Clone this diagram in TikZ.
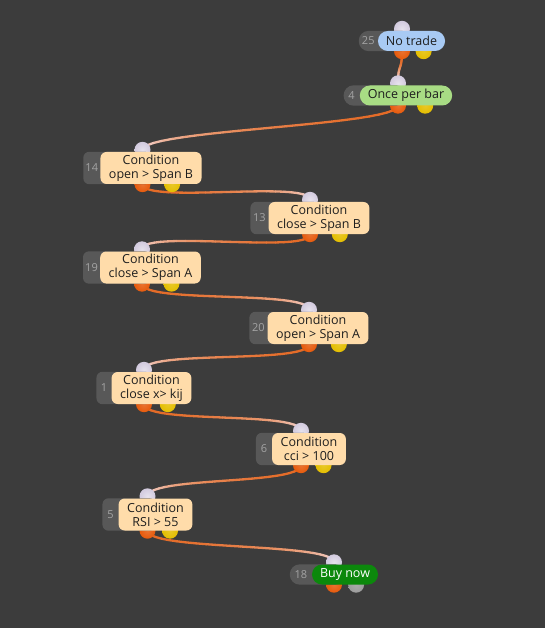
\documentclass[tikz,border=0pt]{standalone}
\usepackage{fontspec}
\setmainfont{Open Sans}
\usetikzlibrary{calc,backgrounds}
\definecolor{Canvas}{HTML}{3C3C3C}
\definecolor{TagGray}{HTML}{585858}
\definecolor{TagText}{HTML}{A4A4A4}
\definecolor{Ink}{HTML}{1E1E1E}
\definecolor{Beige}{HTML}{FFDCAA}
\definecolor{TradeBlue}{HTML}{A8CAF4}
\definecolor{OnceGreen}{HTML}{A8DC84}
\definecolor{BuyGreen}{HTML}{0C880C}
\definecolor{PortTop}{HTML}{D2CADE}
\definecolor{PortOut}{HTML}{E65A0C}
\definecolor{PortSide}{HTML}{E4BE00}
\definecolor{PortIdle}{HTML}{9C9C9C}
\definecolor{WireOrange}{HTML}{E46A26}
\definecolor{WirePale}{HTML}{F4E8F0}
\pgfdeclarelayer{canvas}
\pgfdeclarelayer{wires}
\pgfsetlayers{canvas,wires,background,main}
\newcommand\boxfont{\fontsize{12.5}{14}\selectfont}
\tikzset{
  condbox/.style={fill=Beige,rounded corners=6pt,inner xsep=8.5pt,inner ysep=1pt,minimum height=32pt,align=center,font=\boxfont,text=Ink},
  pillbox/.style={rounded corners=10pt,inner xsep=8pt,inner ysep=1pt,minimum height=20pt,font=\boxfont,text=Ink},
  tradebox/.style={pillbox,fill=TradeBlue},
  oncebox/.style={pillbox,fill=OnceGreen},
  buybox/.style={pillbox,fill=BuyGreen,text=white},
  tagtext/.style={font=\fontsize{11}{13}\selectfont,text=TagText,inner sep=0pt},
  port/.style={circle,inner sep=0pt,minimum size=16pt},
  inport/.style={port,inner color=PortTop!55!white,outer color=PortTop},
  outport/.style={port,inner color=PortOut!85!white,outer color=PortOut},
  sideport/.style={port,inner color=PortSide!85!white,outer color=PortSide},
  idleport/.style={port,inner color=PortIdle!85!white,outer color=PortIdle},
  wire/.style={line width=2.3pt,line cap=round}
}
% #1 name, #2 id, #3 box style, #4 centre, #5 label, #6 side port, #7 tag offset, #8 tag corner
\newcommand\block[8]{%
  \node[#3] (#1) at (#4) {#5};
  \coordinate (#1-l) at ($(#1.west)+(-#7,0)$);
  \coordinate (#1-m) at ($(#1-l)!0.5!(#1.east)$);
  \coordinate (#1-s) at ($(#1-l)!0.75!(#1.east)$);
  \begin{scope}[on background layer]
    \node[inport] (#1-i) at ($(#1-m |- #1.north)+(0,-2)$) {};
    \node[outport] (#1-o) at (#1-m |- #1.south) {};
    \node[#6] (#1-x) at (#1-s |- #1.south) {};
    \fill[TagGray,rounded corners=#8] (#1-l |- #1.north) rectangle (#1.south);
    \node[tagtext] at ($(#1-l)!0.5!(#1.west)$) {#2};
  \end{scope}
}
% from the output port of #1 to the input port of #2
\newcommand\wire[2]{%
  \begin{pgfonlayer}{wires}
    \path (#1-o.center) .. controls +(0,20) and +(0,-20) .. (#2-i.center)
      \foreach \k in {0,...,24}{coordinate[pos=\k/24] (w\k)};
    \foreach \k [evaluate=\k as \j using int(\k+1),evaluate=\k as \c using 100-100*(\k/24)^2.4] in {0,...,23}
      \draw[wire,draw=WireOrange!\c!WirePale] (w\k) -- (w\j);
  \end{pgfonlayer}
}

\begin{document}
\begin{tikzpicture}[x=1pt,y=-1pt]
  \begin{pgfonlayer}{canvas}
    \fill[Canvas] (0,0) rectangle (545,628);
  \end{pgfonlayer}
  \block{n25}{25}{tradebox}{411.5,41}{No trade}{sideport}{19}{10}
  \block{n4}{4}{oncebox}{406,95.5}{Once per bar}{sideport}{16}{10}
  \block{n14}{14}{condbox}{151,168}{Condition\\open > Span B}{sideport}{17}{6}
  \block{n13}{13}{condbox}{319,218}{Condition\\close > Span B}{sideport}{18}{6}
  \block{n19}{19}{condbox}{150.5,267.5}{Condition\\close > Span A}{sideport}{17}{6}
  \block{n20}{20}{condbox}{318,328}{Condition\\open > Span A}{sideport}{18}{6}
  \block{n1}{1}{condbox}{151.5,388}{Condition\\close x> kij}{sideport}{15}{6}
  \block{n6}{6}{condbox}{309,449}{Condition\\cci > 100}{sideport}{16}{6}
  \block{n5}{5}{condbox}{155.5,514.5}{Condition\\RSI > 55}{sideport}{16}{6}
  \block{n18}{18}{buybox}{345,574.5}{Buy now}{idleport}{22}{10}
  \wire{n25}{n4}
  \wire{n4}{n14}
  \wire{n14}{n13}
  \wire{n13}{n19}
  \wire{n19}{n20}
  \wire{n20}{n1}
  \wire{n1}{n6}
  \wire{n6}{n5}
  \wire{n5}{n18}
\end{tikzpicture}
\end{document}
